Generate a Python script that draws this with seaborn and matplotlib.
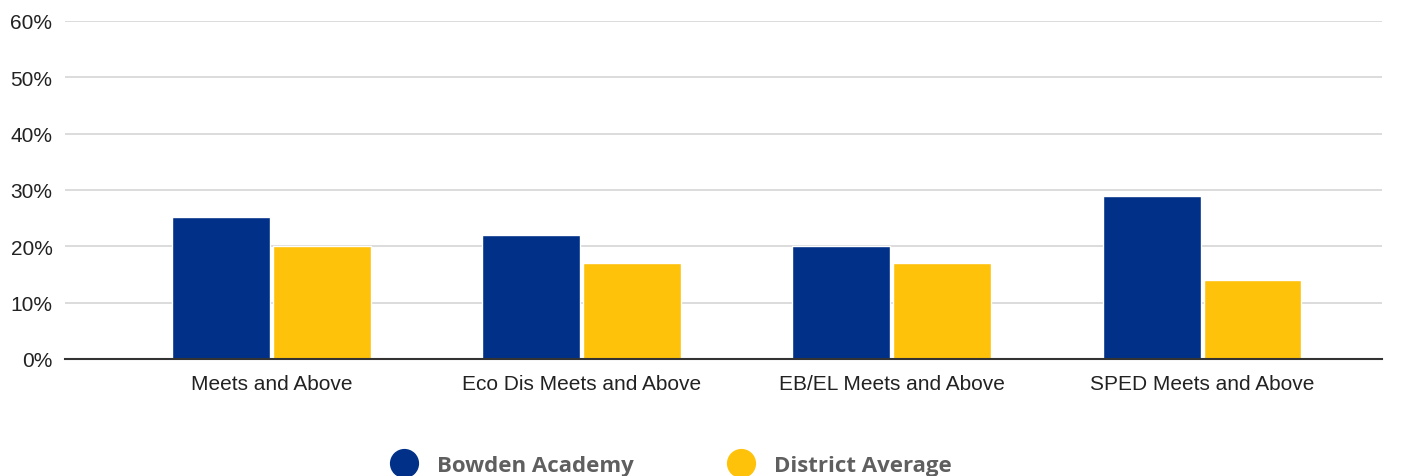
import pandas as pd
import matplotlib.pyplot as plt
import seaborn as sns
from matplotlib.lines import Line2D

# Data
categories = ['Meets and Above', 'Eco Dis Meets and Above', 'EB/EL Meets and Above', 'SPED Meets and Above']
bowden = [25.2, 22, 20, 29]
district = [20, 17, 17, 14]
series_names = ['Bowden Academy', 'District Average']
y_ticks = [0, 10, 20, 30, 40, 50, 60]

df = pd.DataFrame({
    'category': categories * 2,
    'series': [series_names[0]] * 4 + [series_names[1]] * 4,
    'value': bowden + district,
})

colors = {'Bowden Academy': '#003087', 'District Average': '#FFC20A'}

sns.set_style('white')
plt.rcParams['font.family'] = ['Liberation Sans', 'DejaVu Sans']

fig = plt.figure(figsize=(14.16, 4.77), dpi=100)
ax = fig.add_axes([0.0459, 0.2453, 0.976 - 0.0459, 0.9539 - 0.2453])

sns.barplot(data=df, x='category', y='value', hue='series', palette=colors,
            width=0.65, gap=0.03, ax=ax, legend=False, saturation=1)

ax.set_ylim(0, 60)
ax.set_xlim(-0.665, 3.58)
ax.set_yticks(y_ticks)
ax.set_yticklabels([f'{t}%' for t in y_ticks])
ax.yaxis.grid(True, color='#d9d9d9', linewidth=1.3)
ax.set_axisbelow(True)
for s in ['top', 'right', 'left']:
    ax.spines[s].set_visible(False)
ax.spines['bottom'].set_color('#333333')
ax.spines['bottom'].set_linewidth(1.5)
ax.tick_params(axis='y', length=0, pad=9, labelsize=15, labelcolor='#222222')
ax.tick_params(axis='x', length=0, pad=11, labelsize=15, labelcolor='#222222')
ax.set_xlabel('')
ax.set_ylabel('')

handles = [Line2D([0], [0], marker='o', linestyle='', markersize=20,
                  markerfacecolor=colors[n], markeredgecolor=colors[n]) for n in series_names]
leg = fig.legend(handles, series_names, loc='center', bbox_to_anchor=(0.471, 0.023),
                 ncol=2, frameon=False, columnspacing=3.8, handletextpad=0.5,
                 prop={'family': 'Open Sans', 'weight': 'bold', 'size': 16})
for t in leg.get_texts():
    t.set_color('#5f5f5f')

fig.savefig('out.png', dpi=100)
